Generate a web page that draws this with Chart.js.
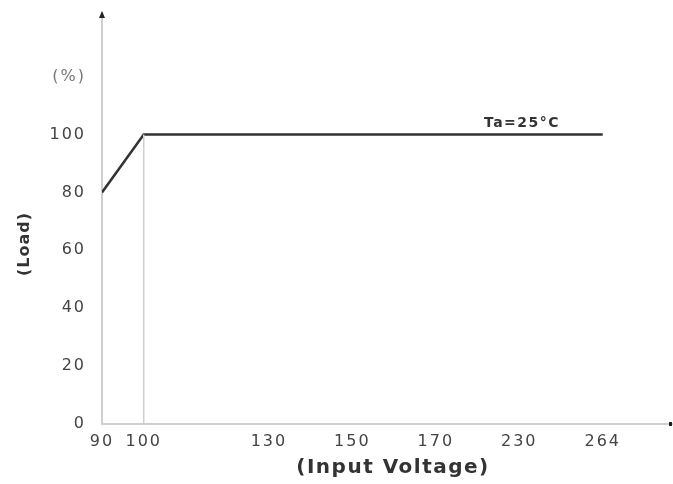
<!DOCTYPE html>
<html lang="en">
<head>
    <meta charset="UTF-8">
    <title>Load vs Input Voltage</title>
    <script src="https://cdn.jsdelivr.net/npm/chart.js/dist/chart.umd.min.js"></script>
    <style>
        body { margin: 0; background: #fff; }
        #wrap { width: 673px; height: 484px; }
    </style>
</head>
<body>
    <div id="wrap"><canvas id="derating"></canvas></div>
    <script>
        // x axis is not linear in volts: each tick label sits at its own slot
        const voltageTicks = [90, 100, 130, 150, 170, 230, 264];
        const tickSlots = [0, 0.5, 2, 3, 4, 5, 6];
        const loadTicks = [0, 20, 40, 60, 80, 100];

        // derating curve
        const curveVoltage = [90, 100, 264];
        const curveLoad = [80, 100, 100];

        // thin marker at 100V
        const markerVoltage = [100, 100];
        const markerLoad = [0, 100];

        const unitTick = 120; // where "(%)" sits on the y axis

        const slotOf = v => tickSlots[voltageTicks.indexOf(v)];
        const toPoints = (xs, ys) => xs.map((v, i) => ({ x: slotOf(v), y: ys[i] }));

        const textStyle = {
            id: 'textStyle',
            beforeDraw(chart) {
                chart.ctx.letterSpacing = '2px';
            },
            afterDraw(chart) {
                const { ctx, chartArea: { left, right, top, bottom } } = chart;
                ctx.save();
                ctx.letterSpacing = '0px';

                // axis arrow / end mark
                ctx.fillStyle = '#222';
                ctx.beginPath();
                ctx.moveTo(left - 3, top + 5);
                ctx.lineTo(left + 3, top + 5);
                ctx.lineTo(left, top - 2);
                ctx.closePath();
                ctx.fill();
                ctx.fillRect(right - 3, bottom - 2, 3, 4);

                ctx.fillStyle = '#333';
                ctx.textAlign = 'center';
                ctx.textBaseline = 'middle';

                ctx.letterSpacing = '1.5px';
                ctx.font = 'bold 20px "DejaVu Sans"';
                ctx.fillText('(Input Voltage)', 393, 468);

                ctx.letterSpacing = '1px';
                ctx.font = 'bold 16px "DejaVu Sans"';
                ctx.save();
                ctx.translate(25, 244);
                ctx.rotate(-Math.PI / 2);
                ctx.fillText('(Load)', 0, 0);
                ctx.restore();

                ctx.letterSpacing = '1.5px';
                ctx.font = 'bold 14px "DejaVu Sans"';
                ctx.fillText('Ta=25°C', 522, 123);
                ctx.restore();
            }
        };

        const chart = new Chart(document.getElementById('derating'), {
            type: 'line',
            data: {
                datasets: [
                    {
                        data: toPoints(markerVoltage, markerLoad),
                        borderColor: '#cfcfcf',
                        borderWidth: 1.5,
                        pointRadius: 0
                    },
                    {
                        data: toPoints(curveVoltage, curveLoad),
                        borderColor: '#333',
                        borderWidth: 2.5,
                        pointRadius: 0
                    }
                ]
            },
            options: {
                responsive: true,
                maintainAspectRatio: false,
                animation: false,
                layout: { padding: { top: 13, right: 1 } },
                plugins: {
                    legend: { display: false },
                    tooltip: { enabled: false }
                },
                scales: {
                    x: {
                        type: 'linear',
                        min: 0,
                        max: 6.83,
                        afterBuildTicks: scale => {
                            scale.ticks = tickSlots.map(value => ({ value }));
                        },
                        afterFit: scale => {
                            scale.height = 60;
                            scale.paddingLeft = 0;
                            scale.paddingRight = 0;
                        },
                        grid: { display: false },
                        border: { color: '#cfcfcf', width: 2 },
                        ticks: {
                            padding: 0,
                            maxRotation: 0,
                            autoSkip: false,
                            color: '#444',
                            font: { family: 'DejaVu Sans', size: 16 },
                            callback: v => voltageTicks[tickSlots.indexOf(v)]
                        }
                    },
                    y: {
                        min: 0,
                        max: 142,
                        afterBuildTicks: scale => {
                            scale.ticks = [...loadTicks, unitTick].map(value => ({ value }));
                        },
                        afterFit: scale => {
                            scale.width = 102;
                            scale.paddingTop = 0;
                            scale.paddingBottom = 0;
                        },
                        grid: { display: false },
                        border: { color: '#cfcfcf', width: 2 },
                        ticks: {
                            padding: 8,
                            autoSkip: false,
                            color: c => c.tick && c.tick.value === unitTick ? '#777' : '#444',
                            font: { family: 'DejaVu Sans', size: 16 },
                            callback: v => v === unitTick ? '(%)' : v
                        }
                    }
                }
            },
            plugins: [textStyle]
        });
    </script>
</body>
</html>
